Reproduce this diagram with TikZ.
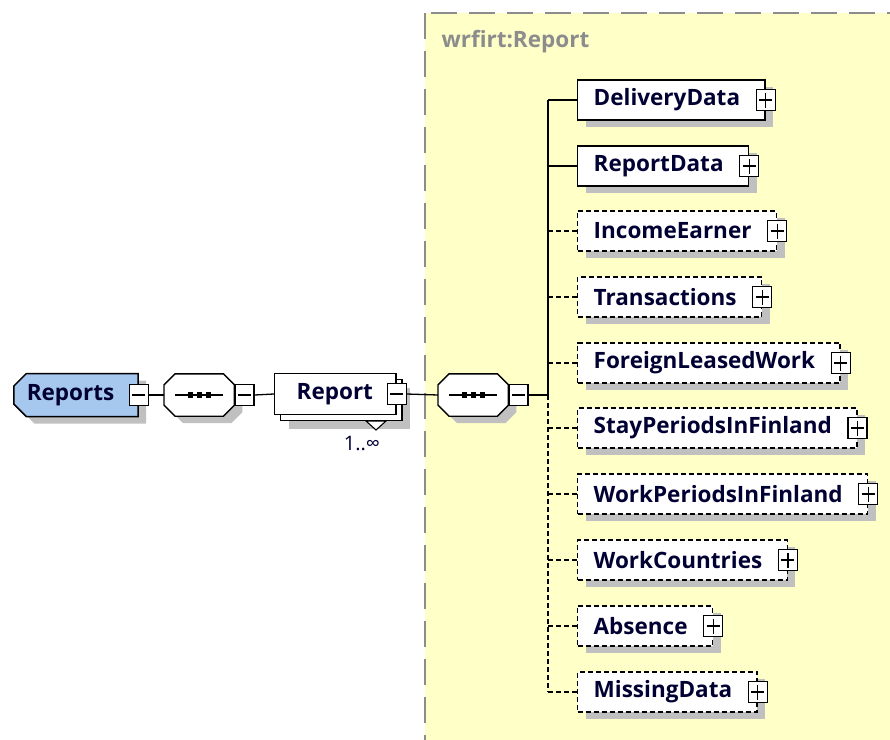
\documentclass[tikz,border=0pt]{standalone}
\usepackage{fontspec}
\setmainfont{Open Sans}
\usetikzlibrary{positioning,shapes.misc,shadows}
\definecolor{xsdink}{HTML}{000033}
\definecolor{xsdblue}{HTML}{A6C8EE}
\definecolor{xsdyellow}{HTML}{FFFFC8}
\definecolor{xsdshade}{HTML}{C0C0C0}
\definecolor{xsdframe}{HTML}{8C8C8C}
\tikzset{
  shade box/.style={drop shadow={shadow xshift=8pt,shadow yshift=-7pt,fill=xsdshade,opacity=1}},
  pads/.style 2 args={execute at begin node=\hspace*{#1},execute at end node=\hspace*{#2}},
  box/.style={draw,line width=1.4pt,fill=white,anchor=west,
    minimum height=40pt,inner sep=0pt,text=xsdink,
    font=\bfseries\fontsize{22.5}{26}\selectfont},
  elem/.style={box,shade box,pads={16pt}{25pt}},
  optelem/.style={elem,dash pattern=on 5pt off 3pt},
  manyelem/.style={box,
    drop shadow={shadow xshift=14pt,shadow yshift=-14pt,fill=xsdshade,opacity=1},
    copy shadow={shadow xshift=6pt,shadow yshift=-6pt},
    minimum height=41pt,pads={22pt}{23pt}},
  rootelem/.style={box,chamfered rectangle,
    chamfered rectangle corners={north west,south west},
    chamfered rectangle xsep=9pt,fill=xsdblue,shade box,line width=1.5pt,
    minimum height=43pt,pads={4pt}{15pt}},
  togglebox/.style={draw,solid,line width=1.2pt,fill=white,
    minimum width=19pt,minimum height=21pt,inner sep=0pt},
  minusbox/.style={togglebox,path picture={
    \draw[line width=1.2pt] ([xshift=3pt]path picture bounding box.west)
      -- ([xshift=-3pt]path picture bounding box.east);}},
  plusbox/.style={togglebox,path picture={
    \draw[line width=1.2pt] ([xshift=3pt]path picture bounding box.west)
      -- ([xshift=-3pt]path picture bounding box.east)
      ([yshift=-3pt]path picture bounding box.north)
      -- ([yshift=3pt]path picture bounding box.south);}},
  seqbox/.style={minimum width=70pt,minimum height=42pt,inner sep=0pt,anchor=west},
  conn/.style={line width=1.3pt},
  optconn/.style={conn,dash pattern=on 5pt off 3pt}
}
% octagon of a sequence compositor, drawn round a named node
\newcommand{\seqframe}[1]{%
  \draw[line width=1.4pt,fill=white,shade box]
    ([xshift=11pt]#1.north west) -- ([xshift=-11pt]#1.north east)
    -- ([yshift=-11pt]#1.north east) -- ([yshift=11pt]#1.south east)
    -- ([xshift=-11pt]#1.south east) -- ([xshift=11pt]#1.south west)
    -- ([yshift=11pt]#1.south west) -- ([yshift=-11pt]#1.north west) -- cycle;
  \draw[line width=1.2pt] ([xshift=11pt]#1.west) -- ([xshift=-11pt]#1.east);
  \foreach \dx in {-9,0,9}
    \fill ([xshift=\dx pt]#1.center) +(-2.7pt,-2.7pt) rectangle +(2.7pt,2.7pt);
}

\begin{document}
\begin{tikzpicture}[x=1pt,y=-1pt]
  \useasboundingbox (0,0) rectangle (890,739);
  % complex type frame
  \draw[xsdframe,line width=1.6pt,dash pattern=on 26pt off 12pt,fill=xsdyellow]
    (425,13) rectangle (910,760);
  \node[anchor=west,text=xsdframe,font=\bfseries\fontsize{22.5}{26}\selectfont]
    (ctype) at (438,42) {wrfirt:Report};

  % left chain
  \node[rootelem] (rps) at (13,395) {Reports};
  \node[minusbox] (rps-x) at (rps.east) {};
  \node[seqbox] (seqa) at (164,395) {};
  \seqframe{seqa}
  \node[minusbox,right=0pt of seqa] (seqa-x) {};
  \node[manyelem] (rep) at (274,394) {Report};
  \node[minusbox] (rep-x) at (rep.east) {};
  \draw[line width=1.1pt,fill=white] (366,421) -- (386,421) -- (376,430) -- cycle;
  \node[text=xsdink,font=\fontsize{20}{22}\selectfont] (rep-occ) at (362,443) {1..∞};
  \node[seqbox] (seqb) at (438,395) {};
  \seqframe{seqb}
  \node[minusbox,right=0pt of seqb] (seqb-x) {};
  \coordinate (trunk) at (548,395);

  % children
  \node[elem] (dd) at (577,100) {DeliveryData};
  \node[elem] (rd) at (577,166) {ReportData};
  \node[optelem] (ie) at (577,231) {IncomeEarner};
  \node[optelem] (tr) at (577,297) {Transactions};
  \node[optelem] (flw) at (577,363) {ForeignLeasedWork};
  \node[optelem] (spf) at (577,428) {StayPeriodsInFinland};
  \node[optelem] (wpf) at (577,494) {WorkPeriodsInFinland};
  \node[optelem] (wc) at (577,560) {WorkCountries};
  \node[optelem] (ab) at (577,626) {Absence};
  \node[optelem] (md) at (577,692) {MissingData};
  \node[plusbox] (dd-x) at (dd.east) {};
  \node[plusbox] (rd-x) at (rd.east) {};
  \node[plusbox] (ie-x) at (ie.east) {};
  \node[plusbox] (tr-x) at (tr.east) {};
  \node[plusbox] (flw-x) at (flw.east) {};
  \node[plusbox] (spf-x) at (spf.east) {};
  \node[plusbox] (wpf-x) at (wpf.east) {};
  \node[plusbox] (wc-x) at (wc.east) {};
  \node[plusbox] (ab-x) at (ab.east) {};
  \node[plusbox] (md-x) at (md.east) {};

  % connectors
  \draw[conn] (rps-x.east) -- (seqa.west);
  \draw[conn] (seqa-x.east) -- (rep.west);
  \draw[conn] (rep-x.east) -- (seqb.west);
  \draw[conn] (seqb-x.east) -- (trunk);
  \draw[conn] (trunk |- dd.west) -- (trunk);
  \draw[optconn] (trunk) -- (trunk |- md.west);
  \draw[conn] (trunk |- dd.west) -- (dd.west);
  \draw[conn] (trunk |- rd.west) -- (rd.west);
  \draw[optconn] (trunk |- ie.west) -- (ie.west);
  \draw[optconn] (trunk |- tr.west) -- (tr.west);
  \draw[optconn] (trunk |- flw.west) -- (flw.west);
  \draw[optconn] (trunk |- spf.west) -- (spf.west);
  \draw[optconn] (trunk |- wpf.west) -- (wpf.west);
  \draw[optconn] (trunk |- wc.west) -- (wc.west);
  \draw[optconn] (trunk |- ab.west) -- (ab.west);
  \draw[optconn] (trunk |- md.west) -- (md.west);
\end{tikzpicture}
\end{document}
